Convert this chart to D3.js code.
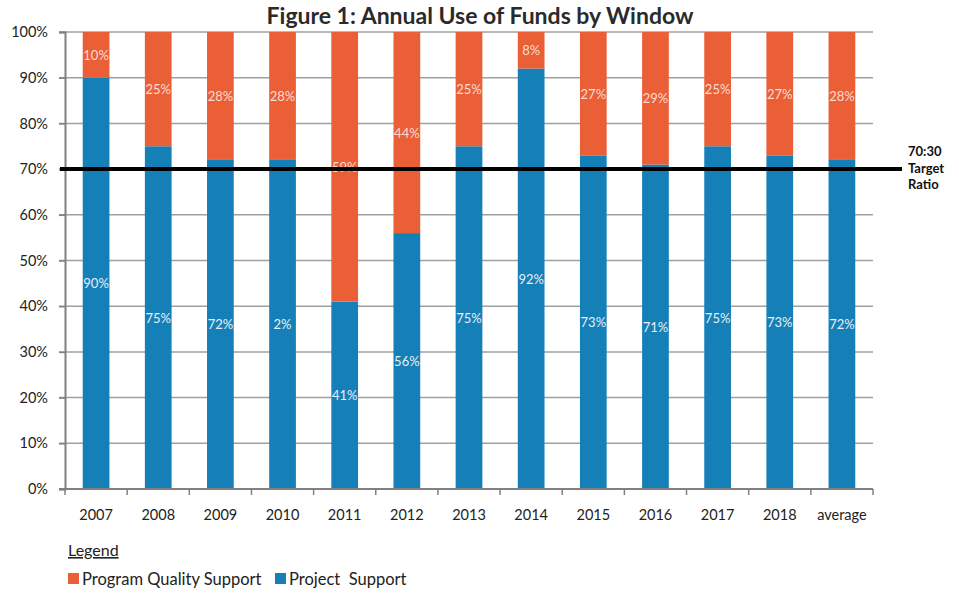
<!DOCTYPE html>
<html><head><meta charset="utf-8">
<script src="https://cdn.jsdelivr.net/npm/d3@7"></script>
<style>body{margin:0;background:#fff;} text{font-family:Lato, "Open Sans", sans-serif;}</style>
</head><body>
<svg id="c" width="959" height="594"></svg>
<script>
const categories = ["2007","2008","2009","2010","2011","2012","2013","2014","2015","2016","2017","2018","average"];
const projectSupport = [90,75,72,72,41,56,75,92,73,71,75,73,72];
const programQuality = [10,25,28,28,59,44,25,8,27,29,25,27,28];
const projectLabels = ["90%","75%","72%","2%","41%","56%","75%","92%","73%","71%","75%","73%","72%"];
const programLabels = ["10%","25%","28%","28%","59%","44%","25%","8%","27%","29%","25%","27%","28%"];
const yTicks = [0,10,20,30,40,50,60,70,80,90,100];
const targetValue = 70;

const svg = d3.select("#c");
const m = {l:65, r:873, t:32, b:489};
const x = d3.scaleBand().domain(categories).range([m.l, m.r]).paddingInner(0).paddingOuter(0);
const y = d3.scaleLinear().domain([0,100]).range([m.b, m.t]);
const bw = x.bandwidth()*0.43;
const cOrange = "#eb5f37", cBlue = "#1580b8";

// gridlines
svg.append("g").selectAll("line").data(yTicks.filter(d=>d>0)).join("line")
  .attr("x1", m.l-6).attr("x2", m.r).attr("y1", d=>y(d)).attr("y2", d=>y(d))
  .attr("stroke","#a0a0a0").attr("stroke-width",1.5);

// y axis
const ya = svg.append("g").attr("transform",`translate(${m.l},0)`)
  .call(d3.axisLeft(y).tickValues(yTicks).tickFormat(d=>d+"%").tickSize(6).tickPadding(11));
ya.select(".domain").attr("stroke","#808080").attr("stroke-width",2);
ya.selectAll(".tick line").attr("stroke","#808080").attr("stroke-width",1.5);
ya.selectAll("text").attr("font-size",14.5).attr("fill","#222").style("font-family","Lato, sans-serif");

// bars
const g = svg.append("g");
categories.forEach((c,i)=>{
  const cx = x(c)+x.bandwidth()/2;
  g.append("rect").attr("x",cx-bw/2).attr("width",bw)
    .attr("y",y(projectSupport[i])).attr("height",y(0)-y(projectSupport[i])).attr("fill",cBlue);
  g.append("rect").attr("x",cx-bw/2).attr("width",bw)
    .attr("y",y(projectSupport[i]+programQuality[i])).attr("height",y(projectSupport[i])-y(projectSupport[i]+programQuality[i])).attr("fill",cOrange);
  g.append("text").attr("x",cx).attr("y",y(projectSupport[i]/2)+5).attr("text-anchor","middle")
    .attr("font-size",13).attr("fill","#e8eef5").text(projectLabels[i]);
  g.append("text").attr("x",cx).attr("y",y(projectSupport[i]+programQuality[i]/2)+5).attr("text-anchor","middle")
    .attr("font-size",13).attr("fill","#f7ddd3").text(programLabels[i]);
});

// x axis
const xa = svg.append("g").attr("transform",`translate(0,${m.b})`);
xa.append("line").attr("x1",m.l-6).attr("x2",m.r).attr("y1",0).attr("y2",0).attr("stroke","#808080").attr("stroke-width",2);
const bounds = categories.map(c=>x(c)).concat([m.r]);
xa.selectAll("line.tk").data(bounds).join("line").attr("class","tk")
  .attr("x1",d=>d).attr("x2",d=>d).attr("y1",0).attr("y2",6).attr("stroke","#808080").attr("stroke-width",1.5);
xa.selectAll("text").data(categories).join("text")
  .attr("x",d=>x(d)+x.bandwidth()/2).attr("y",31).attr("text-anchor","middle")
  .attr("font-size",14.5).attr("fill","#222").text(d=>d);

// target line
svg.append("line").attr("x1",m.l-5).attr("x2",902).attr("y1",y(targetValue)).attr("y2",y(targetValue))
  .attr("stroke","#000").attr("stroke-width",4);
const tt = svg.append("text").attr("x",908).attr("y",y(targetValue)-13).attr("font-size",13).attr("font-weight","bold").attr("fill","#111");
["70:30","Target","Ratio"].forEach((s,i)=>tt.append("tspan").attr("x",908).attr("dy",i?16.5:0).text(s));

// title
svg.append("text").attr("x",480).attr("y",24).attr("text-anchor","middle").attr("font-size",23)
  .attr("font-weight","bold").attr("fill","#2a2a2a").text("Figure 1: Annual Use of Funds by Window");

// legend
svg.append("text").attr("x",68).attr("y",556).attr("font-size",16).attr("fill","#222")
  .attr("text-decoration","underline").text("Legend");
const leg = [{n:"Program Quality Support",c:cOrange,x:68},{n:"Project\u00a0 Support",c:cBlue,x:275}];
leg.forEach(l=>{
  svg.append("rect").attr("x",l.x).attr("y",573).attr("width",11).attr("height",11).attr("fill",l.c);
  svg.append("text").attr("x",l.x+14).attr("y",585).attr("font-size",16.5).attr("fill","#222").text(l.n);
});
</script>
</body></html>
